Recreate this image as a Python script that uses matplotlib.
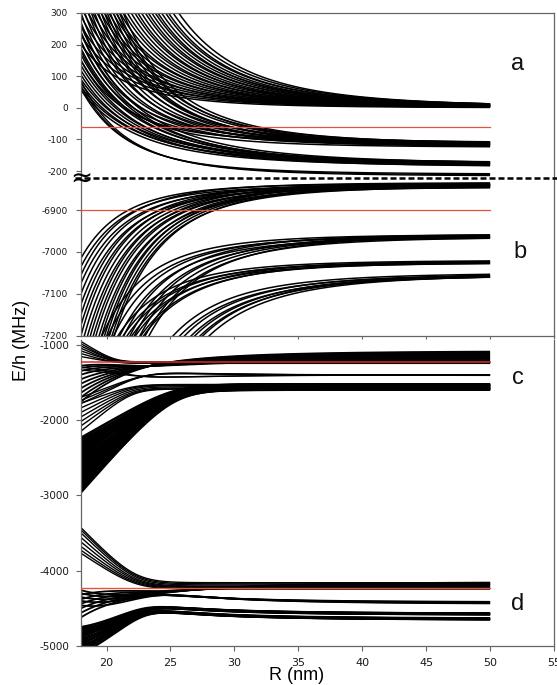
import numpy as np
import matplotlib
matplotlib.use("Agg")
import matplotlib.pyplot as plt
from matplotlib.lines import Line2D

plt.rcParams['axes.unicode_minus'] = False
plt.rcParams['font.family'] = ['DejaVu Sans']

# ---------------- data ----------------
r_first, r_last = 18.0, 50.0          # curves run from R=18 to R=50 nm
x_ticks = [20, 25, 30, 35, 40, 45, 50, 55]

# panel a : value at R=18 (start) and asymptote at large R
a1_start = [200, 230, 260, 290, 320, 350, 385, 420, 455, 490, 530, 570, 610,
            655, 700, 750, 800, 850, 905, 960, 1020, 1080, 1140, 1200, 1270,
            1340, 1420, 1500, 1600, 1750]
a1_asym = [0, 2, 4, 1, 3, 5, 0, 2, 4, 1, 3, 5, 0, 2, 4, 1, 3, 5, 0, 2, 4, 1,
           3, 5, 0, 2, 4, 1, 3, 2]
a2_start = [150, 180, 210, 240, 270, 300, 335, 370, 405, 440, 480, 520, 560,
            600, 645, 690, 740, 790, 850]
a2_asym = [-112, -125, -118, -110, -122, -116, -120, -113, -124, -118, -111,
           -121, -115, -119, -123, -117, -114, -120, -116]
a3_start = [56, 66, 78, 90, 104, 118, 134, 150, 168, 188, 210, 235, 260]
a3_asym = [-186, -178, -183, -175, -188, -181, -179, -185, -177, -182, -180,
           -184, -179]
a4_start = [60, 70, 85]
a4_asym = [-210, -213, -216]
a_red = -60

# panel b
b1_start = [-7015, -7035, -7055, -7075, -7100, -7125, -7150, -7175, -7200,
            -7230, -7260, -7290, -7320, -7350, -7385, -7420, -7455, -7490,
            -7525, -7560, -7600]
b1_asym = [-6836, -6840, -6834, -6842, -6838, -6845, -6837, -6841, -6835,
           -6839, -6843, -6836, -6840, -6838, -6844, -6837, -6841, -6835,
           -6839, -6842, -6838]
b2_start = [-7350, -7400, -7460, -7520, -7580, -7650, -7720, -7800, -7880, -7960]
b2_asym = [-6958, -6962, -6960, -6965, -6957, -6963, -6959, -6961, -6964, -6960]
b3_start = [-7430, -7470, -7510, -7550, -7600, -7650, -7690]
b3_asym = [-7020, -7024, -7022, -7026, -7021, -7025, -7023]
b4_start = [-8010, -8100, -8200, -8300, -8400, -8500, -8600, -8730]
b4_asym = [-7050, -7054, -7052, -7056, -7053, -7055, -7051, -7054]
b_red = -6900

# panel c
c1_start = [-960, -990, -1020, -1050, -1085, -1120, -1160]
c1_asym = [-1232, -1240, -1235, -1245, -1238, -1250, -1242]
c2_start = [-1760, -1700, -1640, -1580, -1520, -1460, -1400, -1350, -1310, -1280]
c2_asym = [-1085, -1095, -1105, -1120, -1135, -1150, -1165, -1180, -1195, -1210]
c2_slow = [-540, -520, -500, -470, -440, -410, -380, -340, -300, -260]
c3_start = [-1300, -1340, -1700, -1740, -1780]
c3_asym = [-1398, -1402, -1406, -1410, -1412]
c3_slow = [-150, -120, 100, 130, 160]
c4_start = [-1780, -1840, -1900, -1960, -2020, -2080, -2150]
c4_asym = [-1530, -1535, -1545, -1560, -1575, -1585, -1590]
c5_start = [-2237, -2265, -2290, -2315, -2340, -2365, -2390, -2415, -2440,
            -2465, -2490, -2515, -2540, -2565, -2590, -2615, -2640, -2665,
            -2690, -2715, -2740, -2765, -2790, -2815, -2840, -2870, -2900,
            -2930, -2960]
c5_asym = [-1530, -1585, -1540, -1595, -1550, -1580, -1535, -1590, -1545,
           -1575, -1530, -1600, -1555, -1585, -1540, -1595, -1550, -1580,
           -1535, -1590, -1545, -1575, -1530, -1600, -1555, -1585, -1540,
           -1595, -1560]
c_red = -1235

# panel d
d1_start = [-3430, -3460, -3500, -3560, -3620, -3680, -3730, -3770]
d1_asym = [-4160, -4175, -4190, -4205, -4215, -4225, -4235, -4245]
d2_start = [-4620, -4560, -4500, -4440, -4380, -4320,
            -4260, -4300, -4350, -4400, -4460]
d2_asym = [-4150, -4158, -4166, -4174, -4182, -4190,
           -4420, -4426, -4432, -4438, -4444]
d2_slow = [-520, -480, -440, -400, -360, -320,
           380, 420, 460, 500, 540]
d3_start = [-4750, -4770, -4790, -4810, -4830, -4850, -4875, -4900, -4925,
            -4950, -4975, -5000, -5025, -5050, -5075, -5100]
d3_asym = [-4575, -4645, -4580, -4650, -4585, -4640, -4578, -4648, -4582,
           -4644, -4576, -4652, -4584, -4646, -4580, -4650]
d3_slow = [350, 390, 350, 390, 350, 390, 350, 390, 350, 390, 350, 390,
           350, 390, 350, 390]
d_red = -4226

# approach shape of each group:
#   ('pow', exponent)               -> (18/R)^exponent
#   ('knee', end offset nm, soft)   -> smooth approach that ends near 18+offset
# an optional slow tail always decays as (18/R)^4
shapes = {
    'a1': ('pow', 5.0), 'a2': ('pow', 5.0), 'a3': ('pow', 4.0), 'a4': ('pow', 5.0),
    'b1': ('pow', 5.5), 'b2': ('pow', 5.5), 'b3': ('pow', 5.5), 'b4': ('pow', 5.5),
    'c1': ('knee', 2.6, 0.6), 'c2': ('knee', 4.8, 1.0), 'c3': ('knee', 4.8, 1.0),
    'c4': ('knee', 4.0, 0.8), 'c5': ('knee', 7.3, 1.3),
    'd1': ('knee', 4.2, 1.0), 'd2': ('knee', 5.8, 1.0), 'd3': ('knee', 5.0, 0.8),
}

# ---------------- figure ----------------
R = np.linspace(r_first, r_last, 600)


def approach(shape):
    if shape[0] == 'pow':
        return (r_first / R) ** shape[1]
    xc, s = shape[1], shape[2]
    x = R - r_first
    return np.logaddexp(0.0, (xc - x) / s) / np.logaddexp(0.0, xc / s)


def level(asym, start, slow, shape):
    tail = (r_first / R) ** 4
    return asym + slow * tail + (start - asym - slow) * approach(shape)


def draw_group(ax, key, starts, asyms, slows=None, lw=1.0):
    if slows is None:
        slows = [0.0] * len(starts)
    for st, asy, sl in zip(starts, asyms, slows):
        ax.plot(R, level(asy, st, sl, shapes[key]), color='black', lw=lw,
                solid_capstyle='butt', zorder=2)


W, H = 557, 685
fig = plt.figure(figsize=(W / 100, H / 100), dpi=100)

left = 81 / W
width = (554 - 81) / W
ax_a = fig.add_axes([left, (H - 178) / H, width, (178 - 13) / H])
ax_b = fig.add_axes([left, (H - 335.5) / H, width, (335.5 - 178) / H])
ax_c = fig.add_axes([left, (H - 646) / H, width, (646 - 340) / H])

spine_col = '#666666'
for ax in (ax_a, ax_b, ax_c):
    ax.set_xlim(18, 55)
    for sp in ax.spines.values():
        sp.set_color(spine_col)
        sp.set_linewidth(0.9)
    ax.tick_params(direction='out', length=3.5, width=0.8, colors=spine_col,
                   labelcolor='#1a1a1a')

# panel a
draw_group(ax_a, 'a1', a1_start, a1_asym, lw=1.1)
draw_group(ax_a, 'a2', a2_start, a2_asym, lw=1.1)
draw_group(ax_a, 'a3', a3_start, a3_asym, lw=1.1)
draw_group(ax_a, 'a4', a4_start, a4_asym)
ax_a.plot([r_first, r_last], [a_red, a_red], color='#e5533d', lw=0.9, zorder=3)
ax_a.set_ylim(-222, 300)
ax_a.set_yticks([-200, -100, 0, 100, 200, 300])
ax_a.spines['bottom'].set_visible(False)
ax_a.tick_params(axis='x', bottom=False, labelbottom=False)
ax_a.tick_params(axis='y', labelsize=6.5, pad=6)

# panel b
draw_group(ax_b, 'b1', b1_start, b1_asym, lw=1.1)
draw_group(ax_b, 'b2', b2_start, b2_asym, lw=1.1)
draw_group(ax_b, 'b3', b3_start, b3_asym, lw=1.1)
draw_group(ax_b, 'b4', b4_start, b4_asym, lw=1.1)
ax_b.plot([r_first, r_last], [b_red, b_red], color='#e5533d', lw=0.9, zorder=3)
ax_b.set_ylim(-7200, -6823)
ax_b.set_yticks([-7200, -7100, -7000, -6900])
ax_b.spines['top'].set_visible(False)
ax_b.set_xticks(x_ticks)
ax_b.tick_params(axis='x', length=2.5, labelbottom=False)
ax_b.tick_params(axis='y', labelsize=6.5, pad=6)

# panels c and d
draw_group(ax_c, 'c1', c1_start, c1_asym)
draw_group(ax_c, 'c2', c2_start, c2_asym, c2_slow, lw=1.3)
draw_group(ax_c, 'c3', c3_start, c3_asym, c3_slow)
draw_group(ax_c, 'c4', c4_start, c4_asym)
draw_group(ax_c, 'c5', c5_start, c5_asym, lw=1.8)
draw_group(ax_c, 'd1', d1_start, d1_asym)
draw_group(ax_c, 'd2', d2_start, d2_asym, d2_slow, lw=1.3)
draw_group(ax_c, 'd3', d3_start, d3_asym, d3_slow, lw=1.8)
ax_c.plot([r_first, r_last], [c_red, c_red], color='#e02a20', lw=1.1, zorder=3)
ax_c.plot([r_first, r_last], [d_red, d_red], color='#e5533d', lw=1.0, zorder=3)
ax_c.set_ylim(-5000, -940)
ax_c.set_yticks([-5000, -4000, -3000, -2000, -1000])
ax_c.spines['top'].set_visible(False)
ax_c.set_xticks(x_ticks)
ax_c.tick_params(axis='y', labelsize=7.5, pad=5)
ax_c.tick_params(axis='x', labelsize=8, pad=5)

# panel letters
for lab, (px, py) in zip(['a', 'b', 'c', 'd'],
                         [(518, 64), (520, 252), (518, 378), (518, 604)]):
    fig.text(px / W, 1 - py / H, lab, fontsize=17, family='Liberation Sans',
             ha='center', va='center', color='#111111')

# axis titles
fig.text(22 / W, 1 - 340 / H, 'E/h (MHz)', rotation=90, fontsize=13,
         family='Liberation Sans', ha='center', va='center')
fig.text(297 / W, 1 - 676 / H, 'R (nm)', fontsize=13,
         family='Liberation Sans', ha='center', va='center')

# axis break: dashed line and break mark
fig.add_artist(Line2D([75 / W, 1.0], [1 - 178 / H, 1 - 178 / H], color='black',
                      lw=1.8, linestyle=(0, (2.4, 1.2)), zorder=5))
fig.text(81 / W, 1 - 178.5 / H, '\u2248', fontsize=19, ha='center',
         va='center', color='black', zorder=6)

fig.savefig('out.png', dpi=100)
